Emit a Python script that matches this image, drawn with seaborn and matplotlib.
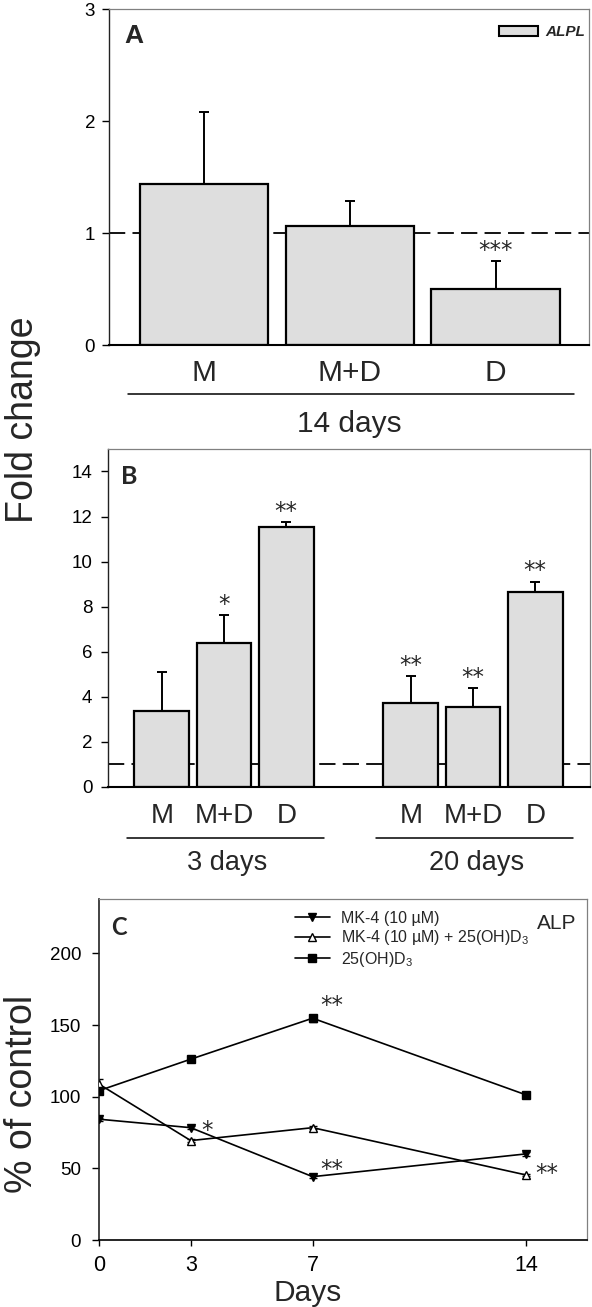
import numpy as np
import pandas as pd
import matplotlib.pyplot as plt
import matplotlib.transforms as mtransforms
from matplotlib.patches import Patch
import seaborn as sns

# panel A - ALPL fold change, 14 days
cats_a = ['M', 'M+D', 'D']
fold_a = [1.44, 1.06, 0.50]
err_a = [0.64, 0.23, 0.25]
stars_a = ['', '', '***']

# panel B - 3 and 20 days
groups_b = ['3 days', '3 days', '3 days', '20 days', '20 days', '20 days']
cats_b = ['M', 'M+D', 'D', 'M', 'M+D', 'D']
fold_b = [3.38, 6.37, 11.52, 3.72, 3.56, 8.66]
err_b = [1.73, 1.26, 0.22, 1.20, 0.81, 0.45]
stars_b = ['', '*', '**', '**', '**', '**']

# panel C - ALP activity, % of control
days_c = [0, 3, 7, 14]
series_c = ['MK-4 (10 µM)', 'MK-4 (10 µM) + 25(OH)D$_3$', '25(OH)D$_3$']
mk4 = [84.3, 78.4, 44.2, 60.1]
mk4_d3 = [108.7, 69.4, 78.4, 45.4]
d3 = [104.3, 126.2, 154.8, 101.3]
mk4_err = [1.0, 1.0, 1.0, 1.5]
mk4_d3_err = [3.5, 1.0, 1.0, 1.0]
d3_err = [2.0, 1.0, 2.5, 1.5]
stars_mk4 = ['', '*', '**', '']
stars_mk4_d3 = ['', '', '', '**']
stars_d3 = ['', '', '**', '']

sns.set_theme(style='ticks')
plt.rcParams['font.family'] = ['Liberation Sans', 'DejaVu Sans']
plt.rcParams['mathtext.fontset'] = 'custom'
plt.rcParams['mathtext.rm'] = 'Liberation Sans'
plt.rcParams['mathtext.default'] = 'regular'

bar_color = '#dedede'
star_font = dict(family='DejaVu Sans', fontsize=16.5)


def style_axes(ax, ytick_pad):
    for s in ['top', 'right']:
        ax.spines[s].set_color('#808080')
        ax.spines[s].set_linewidth(0.9)
    ax.spines['left'].set_color('#222222')
    ax.spines['left'].set_linewidth(1.0)
    ax.spines['bottom'].set_color('black')
    ax.spines['bottom'].set_linewidth(1.5)
    ax.tick_params(axis='y', length=5, width=1, pad=ytick_pad, labelsize=13.5,
                   colors='black', direction='out')


def draw_bars(ax, x, vals, errs):
    ax.axhline(1, color='black', lw=1.3, ls=(0, (9, 4)), zorder=0.5)
    ax.errorbar(x, vals, yerr=errs, fmt='none', ecolor='black', elinewidth=1.4,
                capsize=3.5, capthick=1.4, zorder=0.8)


fig = plt.figure(figsize=(5.92, 13.07), dpi=100)

# ---------------- A
ax_a = fig.add_axes([0.1841, 0.7360, 0.8108, 0.2571])
x_a = list(range(len(cats_a)))
sns.barplot(x=x_a, y=fold_a, native_scale=True, orient='x', color=bar_color,
            saturation=1, edgecolor='black', linewidth=1.6, width=0.88,
            errorbar=None, ax=ax_a, zorder=1)
draw_bars(ax_a, x_a, fold_a, err_a)
for xi, v, e, s in zip(x_a, fold_a, err_a, stars_a):
    if s:
        ax_a.annotate(s, (xi, v + e), xytext=(0, 3), textcoords='offset points',
                      ha='center', va='baseline', **star_font)
ax_a.set_xlim(-0.65, 2.64)
ax_a.set_ylim(0, 3)
ax_a.set_yticks([0, 1, 2, 3])
ax_a.set_xticks([])
style_axes(ax_a, 5)
tr_a = mtransforms.blended_transform_factory(ax_a.transData, ax_a.transAxes)
for xi, c in zip(x_a, cats_a):
    ax_a.text(xi, -0.107, c, transform=tr_a, ha='center', va='baseline', fontsize=21.5)
ax_a.plot([x_a[0] - 0.52, x_a[-1] + 0.54], [-0.146, -0.146], transform=tr_a,
          color='black', lw=1.1, clip_on=False)
ax_a.text(np.mean(x_a), -0.258, '14 days', transform=tr_a, ha='center',
          va='baseline', fontsize=21.5)
ax_a.text(0.0325, 0.900, 'A', transform=ax_a.transAxes, fontsize=19,
          fontweight='bold', va='baseline')
ax_a.legend(handles=[Patch(facecolor=bar_color, edgecolor='black', lw=1.5, label='ALPL')],
            loc='upper right', bbox_to_anchor=(0.992, 0.952), frameon=False,
            borderpad=0, borderaxespad=0, handlelength=2.5, handleheight=0.6,
            handletextpad=0.5, prop=dict(family='Liberation Sans', weight='bold',
                                         style='italic', size=11))

# ---------------- B
ax_b = fig.add_axes([0.1818, 0.3981, 0.8149, 0.2584])
group_order = list(dict.fromkeys(groups_b))
cat_order = list(dict.fromkeys(cats_b))
x_b = [4 * group_order.index(g) + cat_order.index(c) for g, c in zip(groups_b, cats_b)]
sns.barplot(x=x_b, y=fold_b, native_scale=True, orient='x', color=bar_color,
            saturation=1, edgecolor='black', linewidth=1.6, width=0.88,
            errorbar=None, ax=ax_b, zorder=1)
draw_bars(ax_b, x_b, fold_b, err_b)
for xi, v, e, s in zip(x_b, fold_b, err_b, stars_b):
    if s:
        ax_b.annotate(s, (xi, v + e), xytext=(0, 3), textcoords='offset points',
                      ha='center', va='baseline', **star_font)
ax_b.set_xlim(-0.87, 6.88)
ax_b.set_ylim(0, 15)
ax_b.set_yticks(range(0, 15, 2))
ax_b.set_xticks([])
style_axes(ax_b, 6)
tr_b = mtransforms.blended_transform_factory(ax_b.transData, ax_b.transAxes)
for xi, c in zip(x_b, cats_b):
    ax_b.text(xi, -0.108, c, transform=tr_b, ha='center', va='baseline', fontsize=20)
for g in group_order:
    xs = [xi for xi, gg in zip(x_b, groups_b) if gg == g]
    ax_b.plot([xs[0] - 0.56, xs[-1] + 0.6], [-0.151, -0.151], transform=tr_b,
              color='black', lw=1.1, clip_on=False)
    ax_b.text(np.mean(xs) + 0.05, -0.247, g, transform=tr_b, ha='center',
              va='baseline', fontsize=19.5)
ax_b.text(0.028, 0.896, 'B', transform=ax_b.transAxes, fontsize=18,
          fontweight='bold', family='Lato', va='baseline')

# ---------------- C
ax_c = fig.add_axes([0.1677, 0.05126, 0.8238, 0.2609])
markers_c = ['v', '^', 's']
faces_c = ['black', 'white', 'black']
# star placement (points): right of / above the marker
star_shift = {('MK-4', 3): (11.5, -7), ('MK-4', 7): (14, 0.5),
              ('MK-4+D3', 14): (14.7, -3.4), ('D3', 7): (14, 4.3)}
keys_c = ['MK-4', 'MK-4+D3', 'D3']
for key, lab, vals, errs, mk, fc, stars in zip(
        keys_c, series_c, [mk4, mk4_d3, d3], [mk4_err, mk4_d3_err, d3_err],
        markers_c, faces_c, [stars_mk4, stars_mk4_d3, stars_d3]):
    ax_c.errorbar(days_c, vals, yerr=errs, fmt='none', ecolor='black',
                  elinewidth=1, capsize=3, capthick=1, zorder=2)
    sns.lineplot(x=days_c, y=vals, marker=mk, color='black', markerfacecolor=fc,
                 markeredgecolor='black', markeredgewidth=1, markersize=6,
                 lw=1.2, label=lab, ax=ax_c, zorder=3)
    for d, v, s in zip(days_c, vals, stars):
        if s:
            ax_c.annotate(s, (d, v), xytext=star_shift[(key, d)],
                          textcoords='offset points', ha='center', va='baseline',
                          **star_font)
ax_c.set_xlim(0, 16)
ax_c.set_ylim(0, 238)
ax_c.set_xticks(days_c)
ax_c.set_yticks(range(0, 201, 50))
ax_c.set_xlabel('')
ax_c.set_ylabel('')
style_axes(ax_c, 8)
ax_c.spines['left'].set_linewidth(1.2)
ax_c.spines['bottom'].set_linewidth(1.2)
ax_c.tick_params(axis='x', length=4, width=1, pad=7, labelsize=15.5, colors='black')
ax_c.legend(loc='upper left', bbox_to_anchor=(0.401, 0.965), frameon=False,
            borderpad=0, borderaxespad=0, handlelength=2.2, handletextpad=0.7,
            labelspacing=0.15, fontsize=11.5, numpoints=1)
ax_c.text(0.024, 0.894, 'C', transform=ax_c.transAxes, fontsize=17,
          fontweight='bold', family='Lato', va='baseline')
ax_c.text(0.9385, 0.912, 'ALP', transform=ax_c.transAxes, fontsize=15,
          ha='center', va='baseline')

fig.text(41 / 592, 1 - 420 / 1307, 'Fold change', rotation=90, fontsize=27,
         ha='right', va='center')
fig.text(40 / 592, 1 - 1094 / 1307, '% of control', rotation=90, fontsize=27,
         ha='right', va='center')
fig.text(307.7 / 592, 1 - 1301 / 1307, 'Days', fontsize=21.5, ha='center',
         va='baseline')

plt.savefig('out.png', dpi=100)
